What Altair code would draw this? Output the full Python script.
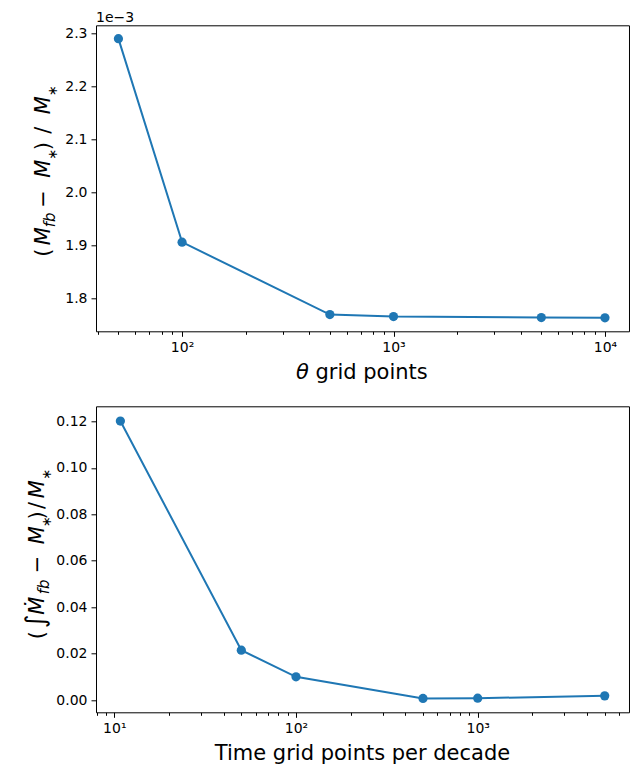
import altair as alt
import pandas as pd

# Convergence in the number of theta grid points
theta_points = [50, 100, 500, 1000, 5000, 10000]
theta_excess = [2.2905e-3, 1.906e-3, 1.7692e-3, 1.7654e-3, 1.7636e-3, 1.7630e-3]

# Convergence in the number of time grid points per decade
time_points = [10.8, 50, 100, 500, 1000, 5000]
time_excess = [0.1202, 0.0215, 0.0100, 0.0007, 0.0008, 0.0018]

top_y_ticks = [1.8e-3, 1.9e-3, 2.0e-3, 2.1e-3, 2.2e-3, 2.3e-3]
bottom_y_ticks = [0.0, 0.02, 0.04, 0.06, 0.08, 0.10, 0.12]

BLUE = "#1f77b4"
FONT = "DejaVu Sans"
W, H = 533, 306
TICK_FS = 14
LABEL_FS = 21
SUB_FS = 15
STAR_FS = 13


def log_ticks(lo_exp, hi_exp, lo, hi):
    vals = []
    for e in range(lo_exp, hi_exp + 1):
        for m in range(1, 10):
            v = m * 10 ** e
            if lo <= v <= hi:
                vals.append(v)
    return vals


SUPER = {10: "10¹", 100: "10²", 1000: "10³", 10000: "10⁴"}
label_expr = " : ".join(
    f"datum.value == {k} ? '{v}'" for k, v in SUPER.items()
) + " : ''"
major_test = "indexof([10, 100, 1000, 10000], datum.value) >= 0"


def x_axis(values):
    return alt.Axis(
        values=values,
        labelExpr=label_expr,
        title=None,
        grid=False,
        domain=False,
        tickSize={"condition": {"test": major_test, "value": 5}, "value": 3},
        labelPadding=4,
        labelOverlap=False,
        labelFlush=False,
    )


def y_axis(values, expr):
    return alt.Axis(
        values=values,
        labelExpr=expr,
        title=None,
        grid=False,
        domain=False,
        tickSize=5,
        labelPadding=4,
        labelOverlap=False,
        labelFlush=False,
    )


def piece(text, x, y, size=LABEL_FS, italic=False, angle=270, align="left"):
    return alt.Chart(alt.Data(values=[{}])).mark_text(
        text=text,
        angle=angle,
        align=align,
        baseline="alphabetic",
        font=FONT,
        fontSize=size,
        fontStyle="italic" if italic else "normal",
        color="black",
    ).encode(x=alt.value(x), y=alt.value(y))


def panel(df, x_dom, y_dom, xticks, yticks, yexpr, extras):
    base = alt.Chart(df).encode(
        x=alt.X("n:Q", scale=alt.Scale(type="log", domain=x_dom, nice=False),
                axis=x_axis(xticks)),
        y=alt.Y("v:Q", scale=alt.Scale(domain=y_dom, zero=False, nice=False),
                axis=y_axis(yticks, yexpr)),
    )
    line = base.mark_line(color=BLUE, strokeWidth=2)
    pts = base.mark_circle(color=BLUE, size=85, opacity=1)
    return alt.layer(line, pts, *extras).properties(width=W, height=H)


top_df = pd.DataFrame({"n": theta_points, "v": theta_excess})
bottom_df = pd.DataFrame({"n": time_points, "v": time_excess})

top_xdom = [39.17, 12992]
bottom_xdom = [7.93, 6803]

# y title (M_fb − M_*) / M_*, set piece by piece so the subscripts drop
top_bx = -46
top_labels = [
    piece("(", top_bx, 231.5),
    piece("M", top_bx, 220, italic=True),
    piece("fb", top_bx + 5, 202, size=SUB_FS, italic=True),
    piece("−", top_bx, 182.5),
    piece("M", top_bx, 152.5, italic=True),
    piece("∗", top_bx + 7, 134.5, size=STAR_FS),
    piece(")", top_bx, 125),
    piece("/", top_bx, 108.5),
    piece("M", top_bx, 89, italic=True),
    piece("∗", top_bx + 7, 71, size=STAR_FS),
    # offset text for the scaled y axis
    piece("1e−3", 0, -3.3, size=TICK_FS, angle=0),
    # x title: θ grid points
    piece("θ", 200, H + 48, italic=True, angle=0),
    piece("grid points", 219.5, H + 48, angle=0),
]

# y title (∫Ṁ_fb − M_*)/M_*
bot_bx = -52
bottom_labels = [
    piece("(", bot_bx, 233),
    piece("∫", bot_bx, 222, size=26),
    piece("Ṁ", bot_bx, 208.5, italic=True),
    piece("fb", bot_bx + 5, 188, size=SUB_FS, italic=True),
    piece("−", bot_bx, 167),
    piece("M", bot_bx, 138, italic=True),
    piece("∗", bot_bx + 7, 121, size=STAR_FS),
    piece(")", bot_bx, 113.3),
    piece("/", bot_bx, 102.8),
    piece("M", bot_bx, 92, italic=True),
    piece("∗", bot_bx + 7, 73.5, size=STAR_FS),
    piece("Time grid points per decade", W / 2, H + 48, angle=0, align="center"),
]

top = panel(
    top_df, top_xdom, [1.7376e-3, 2.3157e-3],
    log_ticks(1, 4, top_xdom[0], top_xdom[1]), top_y_ticks,
    "format(datum.value * 1000, '.1f')", top_labels,
)
bottom = panel(
    bottom_df, bottom_xdom, [-0.00528, 0.12657],
    log_ticks(0, 3, bottom_xdom[0], bottom_xdom[1]), bottom_y_ticks,
    "format(datum.value, '.2f')", bottom_labels,
)

chart = (
    alt.vconcat(top, bottom, spacing=75, bounds="flush")
    .properties(padding={"left": 22, "top": 10.3, "right": 5, "bottom": 5},
                background="white")
    .configure_view(stroke="black", strokeWidth=1)
    .configure_axis(
        labelFont=FONT,
        labelFontSize=TICK_FS,
        labelColor="black",
        tickColor="black",
        tickWidth=1,
    )
)

chart.save("out.html", embed_options={"renderer": "svg", "actions": False})
